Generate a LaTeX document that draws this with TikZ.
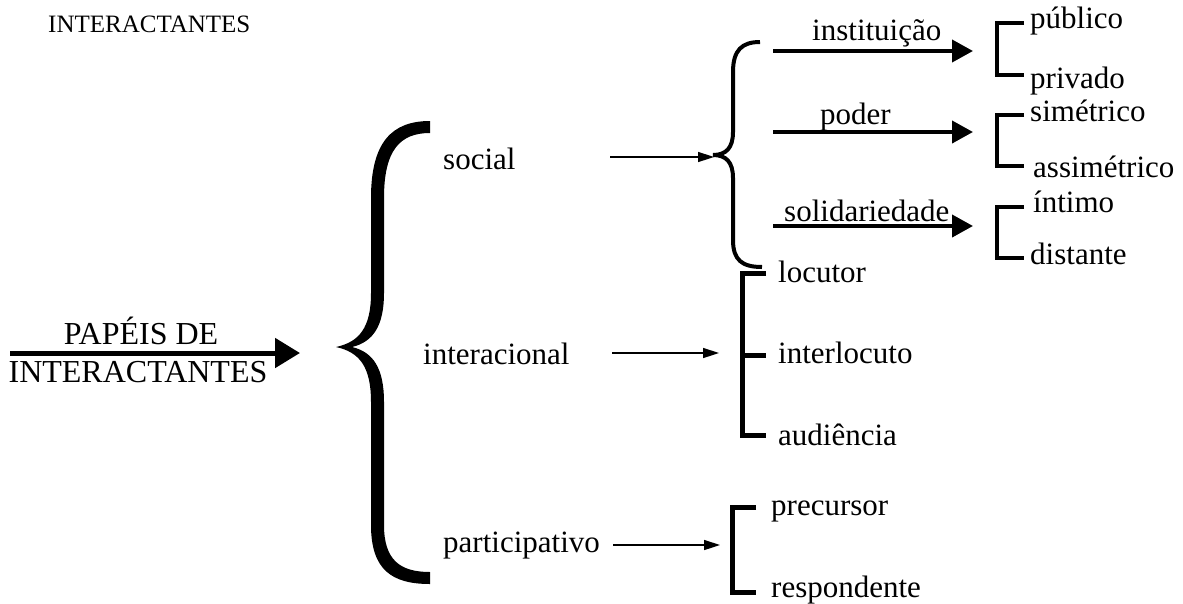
\documentclass[tikz,border=0pt]{standalone}
\usepackage{fontspec}
\setmainfont{Liberation Serif}
\usetikzlibrary{arrows.meta}

\begin{document}
\begin{tikzpicture}[x=1pt,y=-1pt,
  lab/.style={inner sep=0pt,anchor=base west,font=\fontsize{31}{34}\selectfont},
  headfont/.style={inner sep=0pt,anchor=base,font=\fontsize{32}{36}\selectfont},
  bigarrow/.style={line width=5pt,-{Triangle[length=25pt,width=29pt]}},
  midarrow/.style={line width=4pt,-{Triangle[length=21pt,width=22pt]}},
  thinarrow/.style={line width=1.5pt,-{Triangle[length=16pt,width=10pt]}},
  bracket/.style={line width=4pt,line join=miter},
  bracketthick/.style={line width=5pt,line join=miter},
  smallbrace/.style={line width=4pt}]

\useasboundingbox (0,0) rectangle (1183,603);

% title
\node[inner sep=0pt,anchor=base west,font=\fontsize{25}{28}\selectfont] (title) at (48,32) {INTERACTANTES};

% main concept and its arrow
\node[headfont] (papeis) at (141,344) {PAPÉIS DE};
\node[headfont] (interact) at (138,382) {INTERACTANTES};
\coordinate (mainA) at (10,353);
\coordinate (mainB) at (300,353);
\draw[bigarrow] (mainA) -- (mainB);

% large brace, filled like a glyph
\fill (430,121) .. controls (392,121) and (371,142) .. (371,198)
  -- (371,293) .. controls (371,328) and (359,342) .. (336,347)
  .. controls (359,352) and (371,366) .. (371,402)
  -- (371,525) .. controls (371,570) and (392,584) .. (430,584)
  -- (430,572) .. controls (400,572) and (384,560) .. (384,525)
  -- (384,402) .. controls (384,368) and (373,352) .. (352,347)
  .. controls (373,342) and (384,326) .. (384,293)
  -- (384,198) .. controls (384,150) and (400,133) .. (430,133) -- cycle;

% three types
\node[lab] (social) at (443,169) {social};
\node[lab] (interacional) at (423,364) {interacional};
\node[lab] (participativo) at (443,552) {participativo};

\coordinate (socA) at (610,157);
\coordinate (socB) at (714,157);
\draw[thinarrow] (socA) -- (socB);
\coordinate (intA) at (612,353);
\coordinate (intB) at (719,353);
\draw[thinarrow] (intA) -- (intB);
\coordinate (parA) at (613,545);
\coordinate (parB) at (720,545);
\draw[thinarrow] (parA) -- (parB);

% brace of the social roles
\draw[smallbrace] (760,42) .. controls (742,42) and (733,50) .. (733,72)
  -- (733,132) .. controls (733,148) and (726,155) .. (713,155)
  .. controls (726,155) and (733,162) .. (733,178)
  -- (733,240) .. controls (733,260) and (742,267) .. (762,267);

% social dimensions
\node[lab] (inst) at (812,40) {instituição};
\node[lab] (poder) at (820,124) {poder};
\node[lab] (solid) at (784,221) {solidariedade};
\coordinate (instA) at (773,51);
\coordinate (instB) at (973,51);
\draw[midarrow] (instA) -- (instB);
\coordinate (podA) at (773,132);
\coordinate (podB) at (973,132);
\draw[midarrow] (podA) -- (podB);
\coordinate (solA) at (773,226);
\coordinate (solB) at (973,226);
\draw[midarrow] (solA) -- (solB);

% values of each dimension
\node[lab] (publico) at (1030,28) {público};
\node[lab] (privado) at (1030,88) {privado};
\draw[bracket] (1024,23) -- (997,23) -- (997,75) -- (1024,75);

\node[lab] (simetrico) at (1030,121) {simétrico};
\node[lab] (assimetrico) at (1033,177) {assimétrico};
\draw[bracket] (1024,115) -- (997,115) -- (997,166) -- (1024,166);

\node[lab] (intimo) at (1033,212) {íntimo};
\node[lab] (distante) at (1030,264) {distante};
\draw[bracket] (1024,207) -- (997,207) -- (997,258) -- (1024,258);

% interactional roles
\node[lab] (locutor) at (778,282) {locutor};
\node[lab] (interlocutor) at (778,363) {interlocuto};
\node[lab] (audiencia) at (778,445) {audiência};
\draw[bracketthick] (766,273) -- (742,273) -- (742,435) -- (766,435);
\draw[bracketthick] (742,355) -- (766,355);

% participative roles
\node[lab] (precursor) at (771,515) {precursor};
\node[lab] (respondente) at (771,597) {respondente};
\draw[bracketthick] (756,507) -- (732,507) -- (732,592) -- (756,592);

\end{tikzpicture}
\end{document}
